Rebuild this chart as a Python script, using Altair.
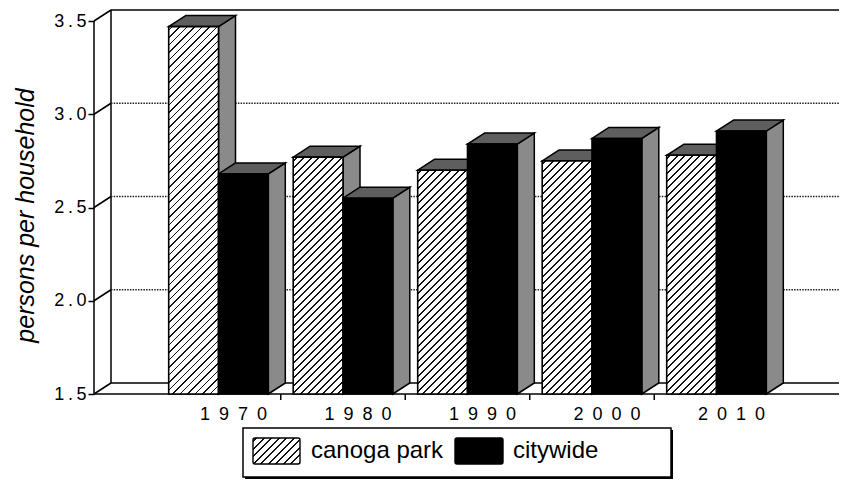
import altair as alt

# ---------------- data ----------------
years = ["1970", "1980", "1990", "2000", "2010"]
series = ["canoga park", "citywide"]
canoga_park = [3.47, 2.77, 2.70, 2.75, 2.78]
citywide = [2.68, 2.55, 2.84, 2.87, 2.91]
y_ticks = [1.5, 2.0, 2.5, 3.0, 3.5]
grid_values = [2.0, 2.5, 3.0]
x_tick_positions = [1, 2, 3, 4, 5.5]

# ---------------- layout / 3-D geometry ----------------
W, H = 745, 386
PX_U = 124.5            # pixels per category
PX_V = 186.5            # pixels per value unit
X0 = -0.5
XMAX = X0 + W / PX_U
Y0 = 1.5
YMAX = Y0 + H / PX_V
DX = 17 / PX_U          # depth offset (x)
DY = 11 / PX_V          # depth offset (y)
BAR_W = 0.4
OFFS = [0.1, 0.5]
LABEL_SHIFT = 0.62

FONT = "Liberation Sans, Arial, Helvetica, sans-serif"


def hatch(w, h, period=7.5, line=1.9, ink="#111111", paper="#ffffff"):
    """Linear gradient with hard stops that draws '/' hatching at 45 deg."""
    tot = w + h
    s = tot / (w * w + h * h)
    stops = [{"offset": 0, "color": paper}]
    k = 0
    while True:
        c = period * (k + 0.5)
        a = round((c - line / 2) / tot, 5)
        b = round((c + line / 2) / tot, 5)
        if b >= 1:
            break
        stops += [{"offset": a, "color": paper}, {"offset": a, "color": ink},
                  {"offset": b, "color": ink}, {"offset": b, "color": paper}]
        k += 1
    stops.append({"offset": 1, "color": paper})
    return {"gradient": "linear", "x1": 0, "y1": 0,
            "x2": round(s * w, 5), "y2": round(s * h, 5), "stops": stops}


front_rows, side_rows, top_rows = [], [], []
for i, yr in enumerate(years):
    for j, (name, vals) in enumerate(zip(series, [canoga_park, citywide])):
        v = vals[i]
        x0 = i + OFFS[j]
        x1 = x0 + BAR_W
        bid = f"{yr}-{name}"
        fill = hatch(BAR_W * PX_U, (v - Y0) * PX_V) if j == 0 else "#000000"
        front_rows.append({"bar": bid, "year": yr, "series": name, "value": v,
                           "x0": x0, "x1": x1, "fill": fill})
        side_rows += [{"bar": bid, "u": x1, "lo": Y0, "hi": v},
                      {"bar": bid, "u": x1 + DX, "lo": Y0 + DY, "hi": v + DY}]
        top_rows += [{"bar": bid, "v": v, "a": x0, "b": x1},
                     {"bar": bid, "v": v + DY, "a": x0 + DX, "b": x1 + DX}]

solid_rows = [
    {"x": X0, "y": Y0, "x2": X0, "y2": y_ticks[-1]},                     # front y axis
    {"x": X0 + DX, "y": Y0 + DY, "x2": X0 + DX, "y2": y_ticks[-1] + DY},  # back wall left
    {"x": X0 + DX, "y": y_ticks[-1] + DY, "x2": XMAX, "y2": y_ticks[-1] + DY},  # back wall top
    {"x": X0 + DX, "y": Y0 + DY, "x2": XMAX, "y2": Y0 + DY},              # floor back
    {"x": X0, "y": Y0, "x2": x_tick_positions[-1], "y2": Y0},             # floor front
    {"x": x_tick_positions[-1], "y": Y0, "x2": x_tick_positions[-1] + DX, "y2": Y0 + DY},
]
for t in y_ticks:
    solid_rows.append({"x": X0, "y": t, "x2": X0 + DX, "y2": t + DY})

grid_rows = [{"x": X0 + DX, "y": g + DY, "x2": XMAX, "y2": g + DY} for g in grid_values]
tick_rows = [{"u": p} for p in x_tick_positions]
label_rows = [{"u": i + LABEL_SHIFT, "label": "\u2002".join(yr)} for i, yr in enumerate(years)]

xs = alt.Scale(domain=[X0, XMAX], nice=False, zero=False)
ys = alt.Scale(domain=[Y0, YMAX], nice=False, zero=False)

yaxis = alt.Axis(
    values=y_ticks, format=".1f",
    labelExpr="replace(format(datum.value, '.1f'), '.', '\u2009.\u2009')",
    domain=False, grid=False, ticks=True, tickSize=6, tickColor="black", tickWidth=1.5,
    labelFont=FONT, labelFontSize=18, labelColor="black", labelPadding=2,
    labelBaseline="middle", labelOverlap=False,
    title="persons per household", titleFont=FONT, titleFontSize=25,
    titleFontStyle="italic", titleFontWeight="normal", titleColor="black",
    titleAngle=270, titleX=-69, titleY=207, titleAlign="center", titleBaseline="middle",
)


def Yf(field):
    return alt.Y(field, scale=ys, axis=yaxis)


def Xf(field):
    return alt.X(field, scale=xs, axis=None)


Ybase = alt.YDatum(Y0, scale=ys, axis=yaxis)

solid = alt.Chart(alt.Data(values=solid_rows)).mark_rule(color="black", strokeWidth=1.5).encode(
    x=Xf("x:Q"), x2="x2:Q", y=Yf("y:Q"), y2="y2:Q")

grid = alt.Chart(alt.Data(values=grid_rows)).mark_rule(
    color="#222222", strokeWidth=1.4, strokeDash=[1.5, 1.2]).encode(
    x=Xf("x:Q"), x2="x2:Q", y=Yf("y:Q"), y2="y2:Q")

sides = alt.Chart(alt.Data(values=side_rows)).mark_area(
    orient="vertical", fill="#8a8a8a", stroke="black", strokeWidth=1.5, strokeJoin="miter").encode(
    x=Xf("u:Q"), y=Yf("hi:Q"), y2="lo:Q", detail="bar:N")

tops = alt.Chart(alt.Data(values=top_rows)).mark_area(
    orient="horizontal", fill="#5e5e5e", stroke="black", strokeWidth=1.5, strokeJoin="miter").encode(
    y=Yf("v:Q"), x=Xf("a:Q"), x2="b:Q", detail="bar:N")

fronts = alt.Chart(alt.Data(values=front_rows)).mark_rect(
    stroke="black", strokeWidth=1.6).encode(
    x=Xf("x0:Q"), x2="x1:Q",
    y=Yf("value:Q"), y2=alt.datum(Y0),
    fill=alt.Fill("fill:N", scale=None, legend=None))

xticks = alt.Chart(alt.Data(values=tick_rows)).mark_rule(color="black", strokeWidth=1.5).encode(
    x=Xf("u:Q"), y=Ybase, y2=alt.value(H + 6))

xlabels = alt.Chart(alt.Data(values=label_rows)).mark_text(
    font=FONT, fontSize=18, color="black", align="center", baseline="alphabetic", dy=26).encode(
    x=Xf("u:Q"), y=Ybase, text="label:N")

# ---------------- legend ----------------
one = alt.Data(values=[{"k": 0}])
leg_shadow = alt.Chart(one).mark_rect(fill="black").encode(
    x=alt.value(151), x2=alt.value(579), y=alt.value(422), y2=alt.value(471))
leg_box = alt.Chart(one).mark_rect(fill="white", stroke="black", strokeWidth=1.5).encode(
    x=alt.value(149), x2=alt.value(577), y=alt.value(420), y2=alt.value(469))
sw1 = alt.Chart(one).mark_rect(fill=hatch(47, 26), stroke="black", strokeWidth=1.4, cornerRadius=2).encode(
    x=alt.value(159), x2=alt.value(206), y=alt.value(430), y2=alt.value(456))
sw2 = alt.Chart(one).mark_rect(fill="black", stroke="black", strokeWidth=1.4, cornerRadius=2).encode(
    x=alt.value(361), x2=alt.value(409), y=alt.value(430), y2=alt.value(456))
t1 = alt.Chart(one).mark_text(font=FONT, fontSize=24, color="black", align="left", baseline="alphabetic").encode(
    x=alt.value(217), y=alt.value(450), text=alt.value(series[0]))
t2 = alt.Chart(one).mark_text(font=FONT, fontSize=24, color="black", align="left", baseline="alphabetic").encode(
    x=alt.value(419), y=alt.value(450), text=alt.value(series[1]))

chart = alt.layer(
    solid, grid, sides, tops, fronts, xticks, xlabels,
    leg_shadow, leg_box, sw1, sw2, t1, t2,
).properties(
    width=W, height=H,
    padding={"left": 86, "top": 0, "right": 0, "bottom": 86},
    autosize=alt.AutoSizeParams(type="none"),
    background="white",
).configure_view(stroke=None)

chart.save("out.html", embed_options={"renderer": "svg", "actions": False})
